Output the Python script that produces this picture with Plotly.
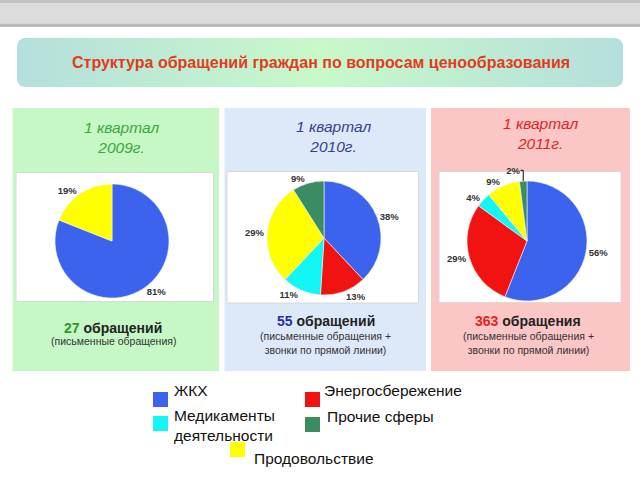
import numpy as np
import plotly.graph_objects as go

# ---------------- data ----------------
categories = ["ЖКХ", "Энергосбережение", "Медикаменты деятельности", "Продовольствие", "Прочие сферы"]
colors = {"ЖКХ": "#3b63ee", "Энергосбережение": "#f21212", "Медикаменты деятельности": "#12f6f6",
          "Продовольствие": "#ffff00", "Прочие сферы": "#3a8c62"}

p2009_labels = ["ЖКХ", "Продовольствие"]
p2009_values = [81, 19]

p2010_labels = ["ЖКХ", "Энергосбережение", "Медикаменты деятельности", "Продовольствие", "Прочие сферы"]
p2010_values = [38, 13, 11, 29, 9]

p2011_labels = ["ЖКХ", "Энергосбережение", "Медикаменты деятельности", "Продовольствие", "Прочие сферы"]
p2011_values = [56, 29, 4, 9, 2]

period_titles = ["1 квартал<br>2009г.", "1 квартал<br>2010г.", "1 квартал<br>2011г."]
counts = ["27", "55", "363"]
count_words = ["обращений", "обращений", "обращения"]
count_notes = ["(письменные обращения)",
               "(письменные обращения +<br>звонки по прямой линии)",
               "(письменные обращения +<br>звонки по прямой линии)"]

title_text = "Структура обращений граждан по вопросам ценообразования"

W, H = 640, 480
FONT = "Liberation Sans, Arial, sans-serif"

fig = go.Figure()

# pixel-space helper axis
fig.update_layout(
    width=W, height=H, margin=dict(l=0, r=0, t=0, b=0),
    paper_bgcolor="white", plot_bgcolor="rgba(0,0,0,0)",
    xaxis=dict(range=[0, W], visible=False, domain=[0, 1], fixedrange=True),
    yaxis=dict(range=[H, 0], visible=False, domain=[0, 1], fixedrange=True),
    showlegend=False,
    font=dict(family=FONT),
)

shapes = []
def rect(x0, y0, x1, y1, fill, line=None, layer="below"):
    shapes.append(dict(type="rect", xref="x", yref="y", x0=x0, y0=y0, x1=x1, y1=y1,
                       fillcolor=fill, line=dict(width=0 if line is None else 1, color=line or fill),
                       layer=layer))

# top gray bar
rect(0, 0, W, 3.5, "#c2c2c2")
rect(0, 3.5, W, 23.5, "#dcdcdc")
rect(0, 23.5, W, 27, "#bababa")

# title box with gradient (rounded rectangle)
bx0, by0, bx1, by1, rr = 17, 38, 623, 87, 8
pts = []
for cx, cy, a0 in [(bx1 - rr, by0 + rr, -90), (bx1 - rr, by1 - rr, 0), (bx0 + rr, by1 - rr, 90), (bx0 + rr, by0 + rr, 180)]:
    ang = np.radians(np.linspace(a0, a0 + 90, 10))
    pts += list(zip(cx + rr * np.cos(ang), cy + rr * np.sin(ang)))
pts.append(pts[0])
fig.add_trace(go.Scatter(
    x=[p[0] for p in pts], y=[p[1] for p in pts], mode="lines", fill="toself",
    line=dict(width=0, color="rgba(0,0,0,0)"),
    fillgradient=dict(type="horizontal",
                      colorscale=[[0, "#b4dfdd"], [0.5, "#c8f9c9"], [1, "#b4dfdd"]]),
    hoverinfo="skip"))

# panels
panel_boxes = [(12.5, 108, 219, 371), (224.5, 108, 426, 371), (431, 108, 630, 371)]
panel_fills = ["#c6f8c6", "#dde9f9", "#fbc6c6"]
white_boxes = [(16, 172.5, 213.5, 301.5), (227, 171.5, 418.5, 303), (439, 171.5, 621, 302.5)]
for (x0, y0, x1, y1), f in zip(panel_boxes, panel_fills):
    rect(x0, y0, x1, y1, f)
for (x0, y0, x1, y1) in white_boxes:
    rect(x0, y0, x1, y1, "white", line="#d8d8d8")

# pies
pie_centers = [(112, 241, 57), (324, 238, 57), (527, 241, 60)]
pie_data = [(p2009_labels, p2009_values), (p2010_labels, p2010_values), (p2011_labels, p2011_values)]
for (cx, cy, r), (labs, vals) in zip(pie_centers, pie_data):
    fig.add_trace(go.Pie(
        labels=labs, values=vals, sort=False, direction="clockwise", rotation=0,
        marker=dict(colors=[colors[l] for l in labs], line=dict(color="#f4f4f4", width=0.6)),
        texttemplate="%{value}%", textposition="outside",
        textfont=dict(family=FONT, size=9.5, color="#333333", weight="bold"),
        domain=dict(x=[(cx - r) / W, (cx + r) / W], y=[1 - (cy + r) / H, 1 - (cy - r) / H]),
        hoverinfo="skip", showlegend=False))

annotations = []
def txt(x, y, text, size, color="#222222", bold=False, italic=False, xanchor="center", align="center"):
    annotations.append(dict(xref="x", yref="y", x=x, y=y, text=text, showarrow=False,
                            xanchor=xanchor, yanchor="middle", align=align,
                            font=dict(family=FONT, size=size, color=color,
                                      weight="bold" if bold else "normal",
                                      style="italic" if italic else "normal")))

txt(321, 62, title_text, 16, color="#e23b1e", bold=True)

title_pos = [(121, 137.5), (333, 136.5), (540, 133)]
title_cols = ["#3aa83a", "#3a3f8e", "#e02424"]
for (x, y), t, c in zip(title_pos, period_titles, title_cols):
    txt(x, y, t, 15.5, color=c, italic=True)

count_pos = [(113, 327.5, 341), (325.5, 320.5, 343), (528, 320.5, 343)]
count_cols = ["#2a9a2a", "#2a2fa0", "#e82222"]
for (x, y1, y2), n, w_, note, c in zip(count_pos, counts, count_words, count_notes, count_cols):
    txt(x, y1, f"<span style='color:{c}'>{n}</span> {w_}", 14, color="#222222", bold=True)
    txt(x, y2, note, 10.5, color="#333333")

# legend
legend_items = [
    ("ЖКХ", 153, 392, 172, 390),
    ("Энергосбережение", 305, 392, 322, 390),
    ("Медикаменты деятельности", 153, 416, 172, 425),
    ("Прочие сферы", 305, 417, 325, 416.5),
    ("Продовольствие", 230, 442, 252, 458),
]
for name, sx, sy, tx, ty in legend_items:
    rect(sx, sy, sx + 15, sy + 15, colors[name], layer="above")
    label = "Медикаменты<br>деятельности" if name == "Медикаменты деятельности" else name
    txt(tx, ty, label, 15.5, color="#111111", xanchor="left", align="left")

fig.update_layout(shapes=shapes, annotations=annotations)
fig.write_html("out.html", config={"displayModeBar": False},
               post_script="document.body.style.margin='0';document.body.style.padding='0';")
